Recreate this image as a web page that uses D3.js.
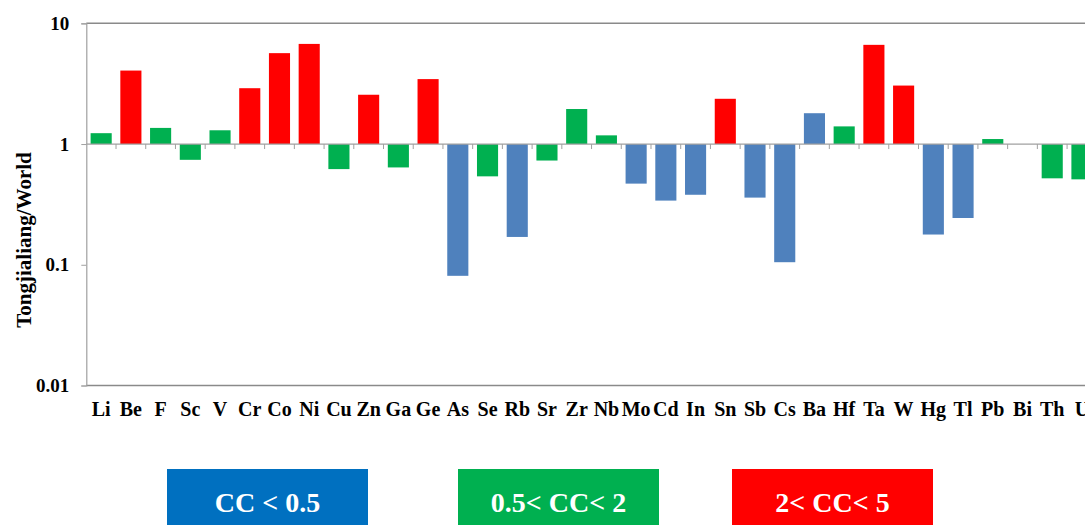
<!DOCTYPE html>
<html>
<head>
<meta charset="utf-8">
<script src="https://cdn.jsdelivr.net/npm/d3@7"></script>
<style>
  html, body { margin: 0; padding: 0; background: #fff; overflow: hidden; }
  svg { display: block; }
  text { font-family: "Liberation Serif", "Times New Roman", serif; font-weight: bold; }
</style>
</head>
<body>
<svg id="chart" width="1085" height="525"></svg>
<script>
// Element symbols along the category axis
const elements = ["Li","Be","F","Sc","V","Cr","Co","Ni","Cu","Zn","Ga","Ge","As","Se","Rb","Sr","Zr",
  "Nb","Mo","Cd","In","Sn","Sb","Cs","Ba","Hf","Ta","W","Hg","Tl","Pb","Bi","Th","U"];

// Concentration ratio Tongjialiang / World (null = no bar)
const ratios = [1.23, 4.06, 1.36, 0.74, 1.30, 2.90, 5.66, 6.75, 0.62, 2.56, 0.64, 3.45, 0.081, 0.54, 0.17, 0.73, 1.95,
  1.18, 0.47, 0.34, 0.38, 2.37, 0.36, 0.105, 1.80, 1.40, 6.63, 3.05, 0.178, 0.244, 1.10, null, 0.52, 0.51];

// Concentration class of each element: "low" CC<0.5, "mid" 0.5<CC<2, "high" 2<CC<5
const classes = ["mid","high","mid","mid","mid","high","high","high","mid","high","mid","high","low","mid","low","mid","mid",
  "mid","low","low","low","high","low","low","low","mid","high","high","low","low","mid","mid","mid","mid"];

const yTicks = [0.01, 0.1, 1, 10];
const yTickLabels = ["0.01", "0.1", "1", "10"];

const legendLabels = ["CC < 0.5", "0.5< CC< 2", "2< CC< 5"];
const legendKeys = ["low", "mid", "high"];

const barColor = { low: "#4F81BD", mid: "#00B050", high: "#FF0000" };
const legendColor = { low: "#0070C0", mid: "#00B050", high: "#FF0000" };

const svg = d3.select("#chart");

const plot = { left: 86.3, right: 1096.8, top: 23.3, bottom: 385.5 };

const x = d3.scaleBand()
  .domain(elements)
  .range([plot.left, plot.right])
  .paddingInner(0.29)
  .paddingOuter(0.145);

const y = d3.scaleLog()
  .domain([0.01, 10])
  .range([plot.bottom, plot.top]);

// top and bottom frame lines of the plot area
svg.append("line")
  .attr("x1", plot.left).attr("x2", plot.right)
  .attr("y1", y(10)).attr("y2", y(10))
  .attr("stroke", "#8a8a8a").attr("stroke-width", 1.5);
svg.append("line")
  .attr("x1", plot.left).attr("x2", plot.right)
  .attr("y1", y(0.01)).attr("y2", y(0.01))
  .attr("stroke", "#8a8a8a").attr("stroke-width", 1.5);

// bars grow up or down from the ratio of 1
const data = elements.map((e, i) => ({ e, v: ratios[i], c: classes[i] })).filter(d => d.v != null);
svg.append("g").selectAll("rect")
  .data(data)
  .join("rect")
  .attr("x", d => x(d.e))
  .attr("width", x.bandwidth())
  .attr("y", d => Math.min(y(d.v), y(1)))
  .attr("height", d => Math.abs(y(d.v) - y(1)))
  .attr("fill", d => barColor[d.c]);

// value axis
const yAxis = svg.append("g")
  .attr("transform", `translate(${plot.left},0)`)
  .call(d3.axisLeft(y).tickValues(yTicks).tickFormat((d, i) => yTickLabels[i]).tickSize(5).tickPadding(12));
yAxis.select(".domain").attr("stroke", "#a0a0a0").attr("stroke-width", 1.2);
yAxis.selectAll(".tick line").attr("stroke", "#a0a0a0");
yAxis.selectAll(".tick text")
  .attr("font-size", 19)
  .attr("font-family", "Liberation Serif, Times New Roman, serif")
  .attr("font-weight", "bold")
  .attr("fill", "#000");

// category axis crossing at 1, ticks at band boundaries
const catAxis = svg.append("g");
catAxis.append("line")
  .attr("x1", plot.left).attr("x2", plot.right)
  .attr("y1", y(1)).attr("y2", y(1))
  .attr("stroke", "#a0a0a0").attr("stroke-width", 1.2);
const bounds = d3.range(1, elements.length + 1).map(i => plot.left + i * x.step());
catAxis.selectAll("line.tick")
  .data(bounds)
  .join("line")
  .attr("class", "tick")
  .attr("x1", d => d).attr("x2", d => d)
  .attr("y1", y(1)).attr("y2", y(1) + 5)
  .attr("stroke", "#a0a0a0");

// element labels under the plot
const xAxis = svg.append("g")
  .attr("transform", `translate(0,${plot.bottom})`)
  .call(d3.axisBottom(x).tickSize(0).tickPadding(16));
xAxis.select(".domain").remove();
xAxis.selectAll(".tick text")
  .attr("font-size", 20)
  .attr("font-family", "Liberation Serif, Times New Roman, serif")
  .attr("font-weight", "bold")
  .attr("fill", "#000");

// value axis title
svg.append("text")
  .attr("transform", `translate(31,240) rotate(-90)`)
  .attr("text-anchor", "middle")
  .attr("font-size", 21)
  .attr("fill", "#000")
  .text("Tongjialiang/World");

// class legend boxes
const legendX = d3.scaleOrdinal().domain(legendKeys).range([167, 458, 732]);
const lg = svg.append("g").selectAll("g")
  .data(legendKeys)
  .join("g")
  .attr("transform", d => `translate(${legendX(d)},469)`);
lg.append("rect")
  .attr("width", 201).attr("height", 60)
  .attr("fill", d => legendColor[d]);
lg.append("text")
  .attr("x", 100.5).attr("y", 43)
  .attr("text-anchor", "middle")
  .attr("font-size", 28)
  .attr("fill", "#fff")
  .text((d, i) => legendLabels[i]);
</script>
</body>
</html>
